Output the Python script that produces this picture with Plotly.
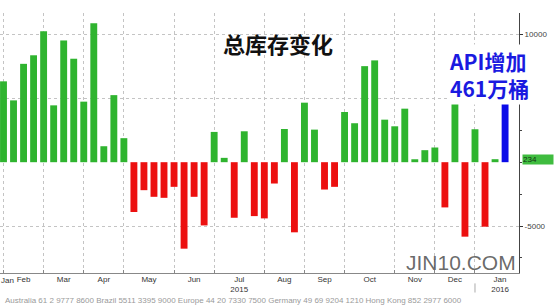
import pandas as pd
import plotly.graph_objects as go

# ---- data (weekly crude inventory change, thousand barrels) ----
EIA_VALUES = [6330, 4840, 7700, 8370, 10250, 4450, 9530, 8100, 4740, 10880,
              1250, 5250, 1880, -3900, -2190, -2710, -2790, -1930, -6770, -2710,
              -4950, 2370, 340, -4350, 2420, -4220, -4400, -1670, 2600, -5490,
              4660, 2550, -2140, -1930, 3930, 3050, 7520, 7970, 3330, 2810,
              4190, 230, 940, 1150, -3540, 4790, -5830, 2580, -5050, 234]
API_VALUE = [4610]
WEEK_ENDING = pd.date_range("2015-01-30", periods=len(EIA_VALUES) + len(API_VALUE), freq="7D")
MONTH_LABELS = ["Feb", "Mar", "Apr", "May", "Jun", "Jul<br>2015", "Aug", "Sep",
                "Oct", "Nov", "Dec", "Jan<br>2016"]
FIRST_MONTH_LABEL = "Jan"
Y_TICKS = [-5000, 5000, 10000]
Y_TICK_TEXT = ["-5000", "5000", "10000"]
TITLE = "总库存变化"
API_NOTE = "API增加<br>461万桶"
LAST_LABEL = "234"
WATERMARK = "JIN10.COM"
FOOTNOTE = ("Australia 61 2 9777 8600 Brazil 5511 3395 9000 Europe 44 20 7330 7500 "
            "Germany 49 69 9204 1210 Hong Kong 852 2977 6000")

GREEN = "#2fb42f"
RED = "#ec1010"
BLUE = "#0b0be8"

eia_dates = WEEK_ENDING[:len(EIA_VALUES)]
api_dates = WEEK_ENDING[len(EIA_VALUES):]

# month boundaries: last Friday of each month (Bloomberg weekly grid)
fridays = pd.date_range("2015-01-01", "2016-01-31", freq="W-FRI")
last_fri = pd.Series(fridays, index=fridays).groupby([fridays.year, fridays.month]).max().tolist()
grid_dates = last_fri[:-1]
label_pos = [a + (b - a) / 2 for a, b in zip(last_fri[:-1], last_fri[1:])]

x_range = ["2015-01-27 13:26", "2016-01-24 17:00"]
bar_w = 4.8 * 86400000

fig = go.Figure()
fig.add_trace(go.Bar(
    x=eia_dates, y=EIA_VALUES, width=bar_w,
    marker=dict(color=[GREEN if v >= 0 else RED for v in EIA_VALUES], line=dict(width=0)),
    xaxis="x", yaxis="y", showlegend=False,
))
fig.add_trace(go.Bar(
    x=api_dates, y=API_VALUE, width=bar_w,
    marker=dict(color=BLUE, line=dict(width=0)),
    xaxis="x2", yaxis="y", showlegend=False,
))

fig.update_layout(
    width=554, height=305,
    margin=dict(l=0, r=35, t=13, b=32),
    paper_bgcolor="white", plot_bgcolor="white",
    font=dict(family="Liberation Sans, Arial, sans-serif", size=8, color="#333"),
    xaxis=dict(
        type="date", range=x_range,
        tickvals=grid_dates, showticklabels=False,
        ticks="inside", ticklen=3, tickcolor="#888",
        showgrid=True, gridcolor="#c4c4c4", griddash="dot", gridwidth=1,
        showline=True, linecolor="#888", linewidth=1, zeroline=False,
    ),
    xaxis2=dict(
        type="date", range=x_range, overlaying="x", anchor="y", side="bottom",
        tickvals=label_pos, ticktext=MONTH_LABELS, ticks="",
        showgrid=False, showline=False, zeroline=False,
        tickfont=dict(size=8, color="#333"),
    ),
    yaxis=dict(
        side="right", range=[-8675, 11680],
        tickvals=Y_TICKS, ticktext=Y_TICK_TEXT,
        ticks="outside", ticklen=3, tickcolor="#333",
        showgrid=True, gridcolor="#c4c4c4", griddash="dot", gridwidth=1,
        showline=True, linecolor="#444", linewidth=1, zeroline=False,
        tickfont=dict(size=8, color="#444"),
        minor=dict(tick0=0, dtick=2500, ticks="outside", ticklen=2, tickcolor="#444", showgrid=False),
    ),
)

annotations = [
    dict(text=f"<b>{TITLE}</b>", x=0.5356, y=0.885, xref="paper", yref="paper",
         xanchor="center", yanchor="middle", showarrow=False,
         font=dict(family="Noto Sans CJK SC", size=22, color="#111")),
    dict(text=f"<b>{API_NOTE}</b>", x=0.862, y=0.765, xref="paper", yref="paper",
         xanchor="left", yanchor="middle", align="left", showarrow=False,
         bgcolor="white", width=98, borderpad=1,
         font=dict(family="Noto Sans CJK SC", size=21, color="#1a1ae0")),
    dict(text=LAST_LABEL, x=1, y=EIA_VALUES[-1], xref="paper", yref="y",
         xanchor="left", yanchor="middle", xshift=3, showarrow=False,
         bgcolor="#3fbc3f", width=30, align="left", borderpad=0,
         font=dict(size=8, color="#123312")),
    dict(text=WATERMARK, x=0.888, y=0.04, xref="paper", yref="paper",
         xanchor="center", yanchor="middle", showarrow=False,
         font=dict(family="Liberation Sans", size=21, color="rgba(80,80,80,0.85)")),
    dict(text=FIRST_MONTH_LABEL, x=0, y=-0.005, xref="paper", yref="paper",
         xanchor="left", yanchor="top", xshift=-1, showarrow=False,
         font=dict(size=8, color="#333")),
    dict(text=FOOTNOTE, x=0.005, y=-0.104, xref="paper", yref="paper",
         xanchor="left", yanchor="middle", showarrow=False,
         font=dict(size=8, color="#9a9a9a")),
]
fig.update_layout(annotations=annotations)

# year separator under the axis between Dec and Jan
fig.add_shape(type="line", xref="x", yref="paper",
              x0=grid_dates[-1], x1=grid_dates[-1], y0=-0.04, y1=-0.075,
              line=dict(color="#aaa", width=1))

fig.write_html("out.html")
